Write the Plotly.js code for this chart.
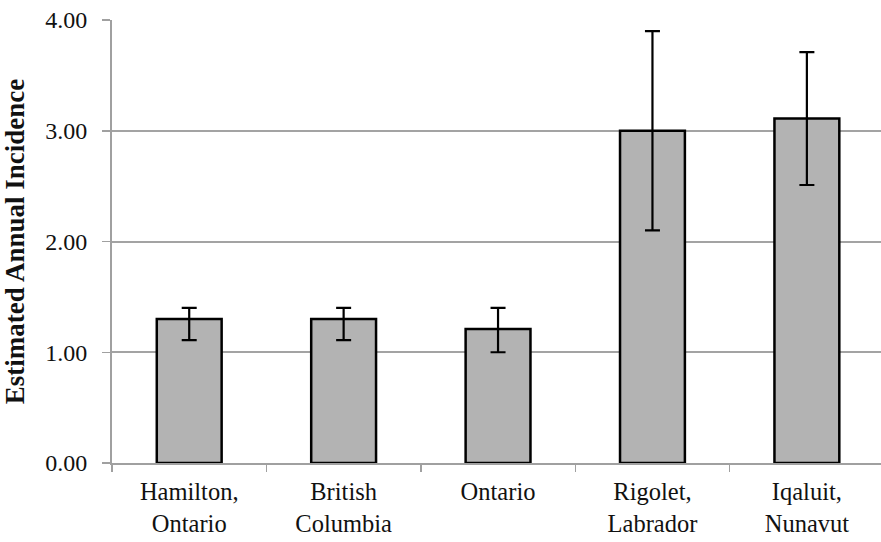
<!DOCTYPE html>
<html>
<head>
<meta charset="utf-8">
<script src="https://cdn.plot.ly/plotly-3.0.1.min.js"></script>
<style>html,body{margin:0;padding:0;background:#fff}#chart{width:881px;height:542px}</style>
</head>
<body>
<div id="chart"></div>
<script>
var categories = ["Hamilton,<br>Ontario", "British<br>Columbia", "Ontario", "Rigolet,<br>Labrador", "Iqaluit,<br>Nunavut"];
var incidence = [1.30, 1.30, 1.21, 3.00, 3.11];
var upperCI = [1.40, 1.40, 1.40, 3.90, 3.71];
var lowerCI = [1.11, 1.11, 1.00, 2.10, 2.51];
var yTickVals = [0, 1, 2, 3, 4];
var yTickText = ["0.00", "1.00", "2.00", "3.00", "4.00"];

var errPlus = incidence.map(function (v, i) { return upperCI[i] - v; });
var errMinus = incidence.map(function (v, i) { return v - lowerCI[i]; });

var trace = {
  type: "bar",
  x: categories,
  y: incidence,
  marker: { color: "#b3b3b3", line: { color: "#000000", width: 2.5 } },
  error_y: {
    type: "data", symmetric: false,
    array: errPlus, arrayminus: errMinus,
    color: "#000000", thickness: 2.2, width: 7.5
  },
  hoverinfo: "skip"
};

var layout = {
  width: 881, height: 542,
  margin: { l: 112, r: 0, t: 20, b: 79 },
  paper_bgcolor: "#ffffff", plot_bgcolor: "#ffffff",
  bargap: 0.58,
  showlegend: false,
  font: { family: "Liberation Serif, Times New Roman, serif", color: "#111111" },
  xaxis: {
    type: "category",
    range: [-0.5, 4.48],
    tickson: "boundaries",
    ticks: "outside", ticklen: 7, tickwidth: 1.5, tickcolor: "#a0a0a0",
    showline: true, linecolor: "#a0a0a0", linewidth: 2,
    showgrid: false, zeroline: false,
    ticklabelstandoff: 6,
    tickfont: { size: 24.5, family: "Liberation Serif, serif", color: "#111111" },
    automargin: false
  },
  yaxis: {
    range: [0, 4],
    tickvals: yTickVals, ticktext: yTickText,
    ticks: "outside", ticklen: 8, tickwidth: 1.5, tickcolor: "#a0a0a0",
    showline: true, linecolor: "#a0a0a0", linewidth: 2,
    showgrid: true, gridcolor: "#a3a3a3", gridwidth: 2,
    zeroline: false,
    ticklabelstandoff: 10,
    tickfont: { size: 24, family: "Liberation Serif, serif", color: "#111111" },
    title: { text: "<b>Estimated Annual Incidence</b>", font: { size: 27, family: "Liberation Serif, serif", color: "#111111" }, standoff: 13 },
    automargin: false
  }
};

Plotly.newPlot("chart", [trace], layout, { staticPlot: true, displayModeBar: false });
</script>
</body>
</html>
